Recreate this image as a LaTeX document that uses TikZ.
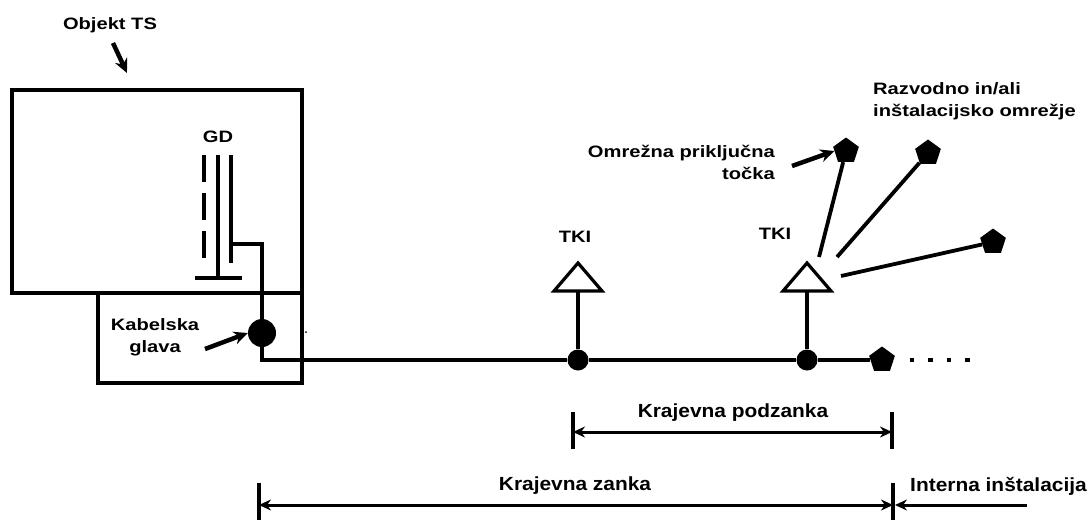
\documentclass[tikz,border=0pt]{standalone}
\usepackage{fontspec}
\newfontfamily\labelfont[FakeStretch=1.22]{Liberation Sans}
\newfontfamily\dimfont[FakeStretch=1.1]{Liberation Sans}
\usepackage{tikz}
\usetikzlibrary{shapes.geometric,arrows.meta}
\tikzset{
  every picture/.style={font={\labelfont\bfseries}, >=stealth}}

\begin{document}
\begin{tikzpicture}[x=1pt, y=-1pt,
    box/.style={line width=3.2pt},
    wire/.style={line width=3.8pt},
    joint/.style={circle, fill, inner sep=0pt, minimum size=21pt},
    ntp/.style={regular polygon, regular polygon sides=5, fill,
      inner sep=0pt, minimum size=27pt},
    lbl/.style={font=\labelfont\bfseries\fontsize{16.5}{22}\selectfont,
      inner sep=0pt},
    dimlbl/.style={font=\dimfont\bfseries\fontsize{19}{22}\selectfont,
      inner sep=0pt},
    pointer/.style={-{Stealth[length=14pt,width=13pt]}, line width=4.5pt},
    dimline/.style={{Stealth[length=12pt,width=11pt]}-{Stealth[length=12pt,width=11pt]},
      line width=3pt}]

    \useasboundingbox (0,0) rectangle (1089,520);

    % Objekt TS
    \draw[box] (12,90) rectangle (302,293);
    \draw[box] (98,293) rectangle (302,383);
    \node[lbl] (objekt) at (110,25) {Objekt TS};
    \coordinate (objektTip) at (127,73);
    \draw[pointer] (113,43) -- (objektTip);

    % GD
    \node[lbl] (gd) at (218,137) {GD};
    \draw[wire, dash pattern=on 27pt off 11pt] (204,155) -- (204,263);
    \draw[wire] (218,155) -- (218,278);
    \draw[wire] (231,155) -- (231,263);
    \draw[wire] (195,278) -- (242,278);
    \coordinate (gdOut) at (231,244);

    % Kabelska glava
    \node[circle, fill, inner sep=0pt, minimum size=28pt] (glava) at (262,333) {};
    \draw[wire] (gdOut) -| (glava);
    \node[lbl, align=center] (kabelska) at (155,337) {Kabelska\\glava};
    \draw[pointer] (205,349) -- (glava.west);
    \fill (306,332) circle (1pt);

    % TKI
    \foreach \n/\x in {A/578,B/807} {
      \node[joint] (j\n) at (\x,360) {};
      \coordinate (t\n) at (\x,291);
      \draw[box, fill=white] (\x-24,291) -- (\x,263) -- (\x+24,291) -- cycle;
      \draw[wire] (j\n) -- (t\n);
    }
    \node[lbl] (tkiA) at (575,237) {TKI};
    \node[lbl] (tkiB) at (775,234) {TKI};

    % main line
    \node[ntp] (ntp0) at (882,360) {};
    \coordinate (more) at (972,360);
    \draw[wire] (glava) |- (jA) -- (jB) -- (ntp0);
    \draw[line width=4.5pt, dash pattern=on 4.5pt off 14pt] (ntp0.east) ++(16,0) -- (more);

    % network
    \node[ntp] (ntp1) at (846,151) {};
    \node[ntp] (ntp2) at (928,153) {};
    \node[ntp] (ntp3) at (993,242) {};
    \coordinate (fan1) at (819,257);
    \coordinate (fan2) at (837,257);
    \coordinate (fan3) at (841,276);
    \draw[wire] (fan1) -- (ntp1);
    \draw[wire] (fan2) -- (ntp2);
    \draw[wire] (fan3) -- (ntp3);
    \node[lbl, align=right, anchor=east] (omrezna) at (775,162)
      {Omrežna priključna\\točka};
    \draw[pointer] (792,166) -- (ntp1.west);
    \node[lbl, align=left, anchor=west] (razvodno) at (873,101)
      {Razvodno in/ali\\inštalacijsko omrežje};

    % dimensions
    \draw[box] (573,412) -- (573,449);
    \draw[box] (892,412) -- (892,449);
    \draw[dimline] (573,432) -- (892,432);
    \node[dimlbl] (podzanka) at (733,413) {Krajevna podzanka};

    \draw[box] (259,483) -- (259,520);
    \draw[box] (893,483) -- (893,520);
    \draw[dimline] (259,505) -- (893,505);
    \node[dimlbl] (zanka) at (575,486) {Krajevna zanka};
    \draw[-{Stealth[length=12pt,width=11pt]}, line width=3pt] (1027,505) -- (895,505);
    \node[dimlbl, anchor=west] (interna) at (910,486) {Interna inštalacija};
  \end{tikzpicture}
\end{document}
